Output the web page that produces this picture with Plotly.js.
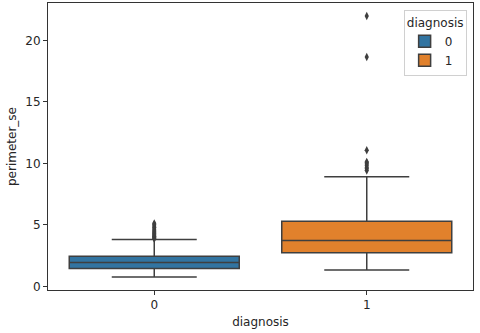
<!DOCTYPE html>
<html>
<head>
<meta charset="utf-8">
<script src="https://cdn.plot.ly/plotly-3.0.1.min.js"></script>
<style>html,body{margin:0;padding:0;background:#fff;}#chart{width:480px;height:333px;}</style>
</head>
<body>
<div id="chart"></div>
<script>
const categories = ['0', '1'];
const q1Values = [1.445, 2.72];
const medianValues = [1.93, 3.72];
const q3Values = [2.44, 5.30];
const lowerFence = [0.76, 1.33];
const upperFence = [3.80, 8.90];
const outliers0 = [3.86, 3.92, 3.98, 4.05, 4.12, 4.20, 4.28, 4.36, 4.45, 4.55, 4.66, 4.78, 4.90, 5.02, 5.12];
const outliers1 = [9.42, 9.57, 9.64, 9.81, 9.95, 10.05, 10.12, 11.07, 18.65, 21.98];
const colors = ['#3274a1', '#e1812c'];
const outlierSets = [outliers0, outliers1];

const traces = [];
categories.forEach((c, i) => {
  traces.push({
    type: 'box',
    name: c,
    x: [i],
    q1: [q1Values[i]],
    median: [medianValues[i]],
    q3: [q3Values[i]],
    lowerfence: [lowerFence[i]],
    upperfence: [upperFence[i]],
    width: 0.8,
    whiskerwidth: 0.5,
    boxpoints: false,
    fillcolor: colors[i],
    line: {color: '#3f3f3f', width: 1.5},
    showlegend: true
  });
});
categories.forEach((c, i) => {
  traces.push({
    type: 'scatter',
    mode: 'markers',
    x: outlierSets[i].map(() => i),
    y: outlierSets[i],
    marker: {symbol: 'diamond-tall', size: 6, color: '#3f3f3f'},
    showlegend: false,
    hoverinfo: 'y'
  });
});

const layout = {
  width: 480, height: 333,
  margin: {l: 48, r: 7, t: 3, b: 43},
  paper_bgcolor: '#fff', plot_bgcolor: '#fff',
  font: {family: 'DejaVu Sans', size: 12, color: '#262626'},
  xaxis: {
    range: [-0.5, 1.5],
    tickvals: [0, 1], ticktext: categories,
    showgrid: false, zeroline: false,
    showline: true, mirror: true, linecolor: '#333', linewidth: 1,
    ticks: 'outside', ticklen: 4, tickcolor: '#333',
    title: {text: 'diagnosis', font: {size: 12}, standoff: 6}
  },
  yaxis: {
    range: [-0.3, 23.04],
    tickvals: [0, 5, 10, 15, 20],
    showgrid: false, zeroline: false,
    showline: true, mirror: true, linecolor: '#333', linewidth: 1,
    ticks: 'outside', ticklen: 4, tickcolor: '#333',
    title: {text: 'perimeter_se', font: {size: 12}, standoff: 6}
  },
  legend: {
    title: {text: 'diagnosis', font: {size: 12}, side: 'top center'},
    x: 0.985, xanchor: 'right', y: 0.975, yanchor: 'top',
    bordercolor: '#d0d0d0', borderwidth: 1, bgcolor: 'rgba(255,255,255,0.8)',
    font: {size: 12}
  },
  boxmode: 'overlay'
};

Plotly.newPlot('chart', traces, layout, {displayModeBar: false, staticPlot: true});
</script>
</body>
</html>
